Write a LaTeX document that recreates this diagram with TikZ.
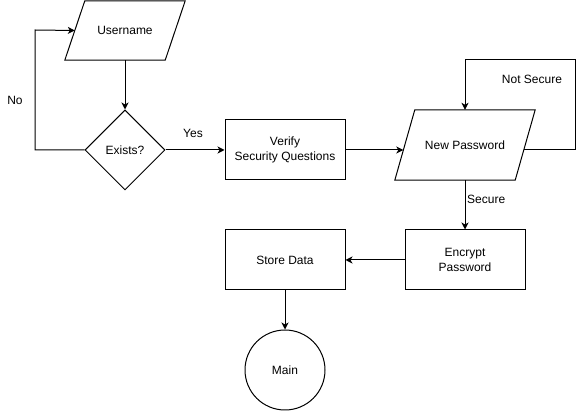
\documentclass[tikz,border=0pt]{standalone}
\usepackage{fontspec}
\setmainfont{Liberation Sans}
\usetikzlibrary{positioning,arrows.meta,shapes.geometric}
\newcommand{\ioframe}[1]{\draw[line width=1pt] ([xshift=10pt]#1.north west) -- ([xshift=10pt]#1.north east) -- ([xshift=-10pt]#1.south east) -- ([xshift=-10pt]#1.south west) -- cycle;}
\tikzset{
  flow/.style={line width=1pt,-{Stealth[length=7pt,width=7pt,inset=2pt]}},
  procbox/.style={draw,line width=1pt,minimum width=120pt,minimum height=60pt,inner sep=0pt,align=center},
  iobox/.style={minimum width=100pt,minimum height=60pt,inner sep=0pt,align=center},
  decbox/.style={draw,line width=1pt,diamond,minimum width=80pt,minimum height=80pt,inner sep=0pt},
  termbox/.style={draw,line width=1pt,circle,minimum size=80pt,inner sep=0pt},
  elab/.style={inner sep=0pt}
}
\begin{document}
\begin{tikzpicture}[x=1pt,y=-1pt,font=\fontsize{12}{14.5}\selectfont]
  \useasboundingbox (0,0) rectangle (584,411);
  % shapes
  \node[iobox,minimum height=59pt] (user) at (125,30.5) {Username}; \ioframe{user}
  \node[decbox] (exists) at (125,150) {Exists?};
  \node[procbox] (verify) at (285,150) {Verify\\Security Questions};
  \node[iobox,minimum width=120pt,minimum height=70pt] (newpw) at (465,145) {New Password}; \ioframe{newpw}
  \node[procbox] (encrypt) at (465,260) {Encrypt\\Password};
  \node[procbox] (store) at (285,260) {Store Data};
  \node[termbox] (main) at (285,370) {Main};
  % turning points
  \coordinate (noturn) at (35,30); \coordinate (nsturn) at (575,60);
  % connectors
  \draw[flow] (user) -- (exists);
  \draw[flow] (exists.west) -| (noturn) -- (user.west);
  \draw[flow] (exists.east) -- (verify.west);
  \draw[flow] (verify.east) -- ([xshift=-1.5pt]verify.east -| newpw.west);
  \draw[flow] ([xshift=-1.5pt]verify.east -| newpw.east) -| (nsturn) -| (newpw.north);
  \draw[flow] (newpw.south) -- (encrypt.north);
  \draw[flow] (encrypt.west) -- (store.east);
  \draw[flow] (store.south) -- (main.north);
  % labels
  \node[elab] (nolab) at (15,100) {No}; \node[elab] (yeslab) at (193,133) {Yes};
  \node[elab] (nslab) at (532,79) {Not Secure}; \node[elab,anchor=west] (seclab) at (467,199) {Secure};
\end{tikzpicture}
\end{document}
